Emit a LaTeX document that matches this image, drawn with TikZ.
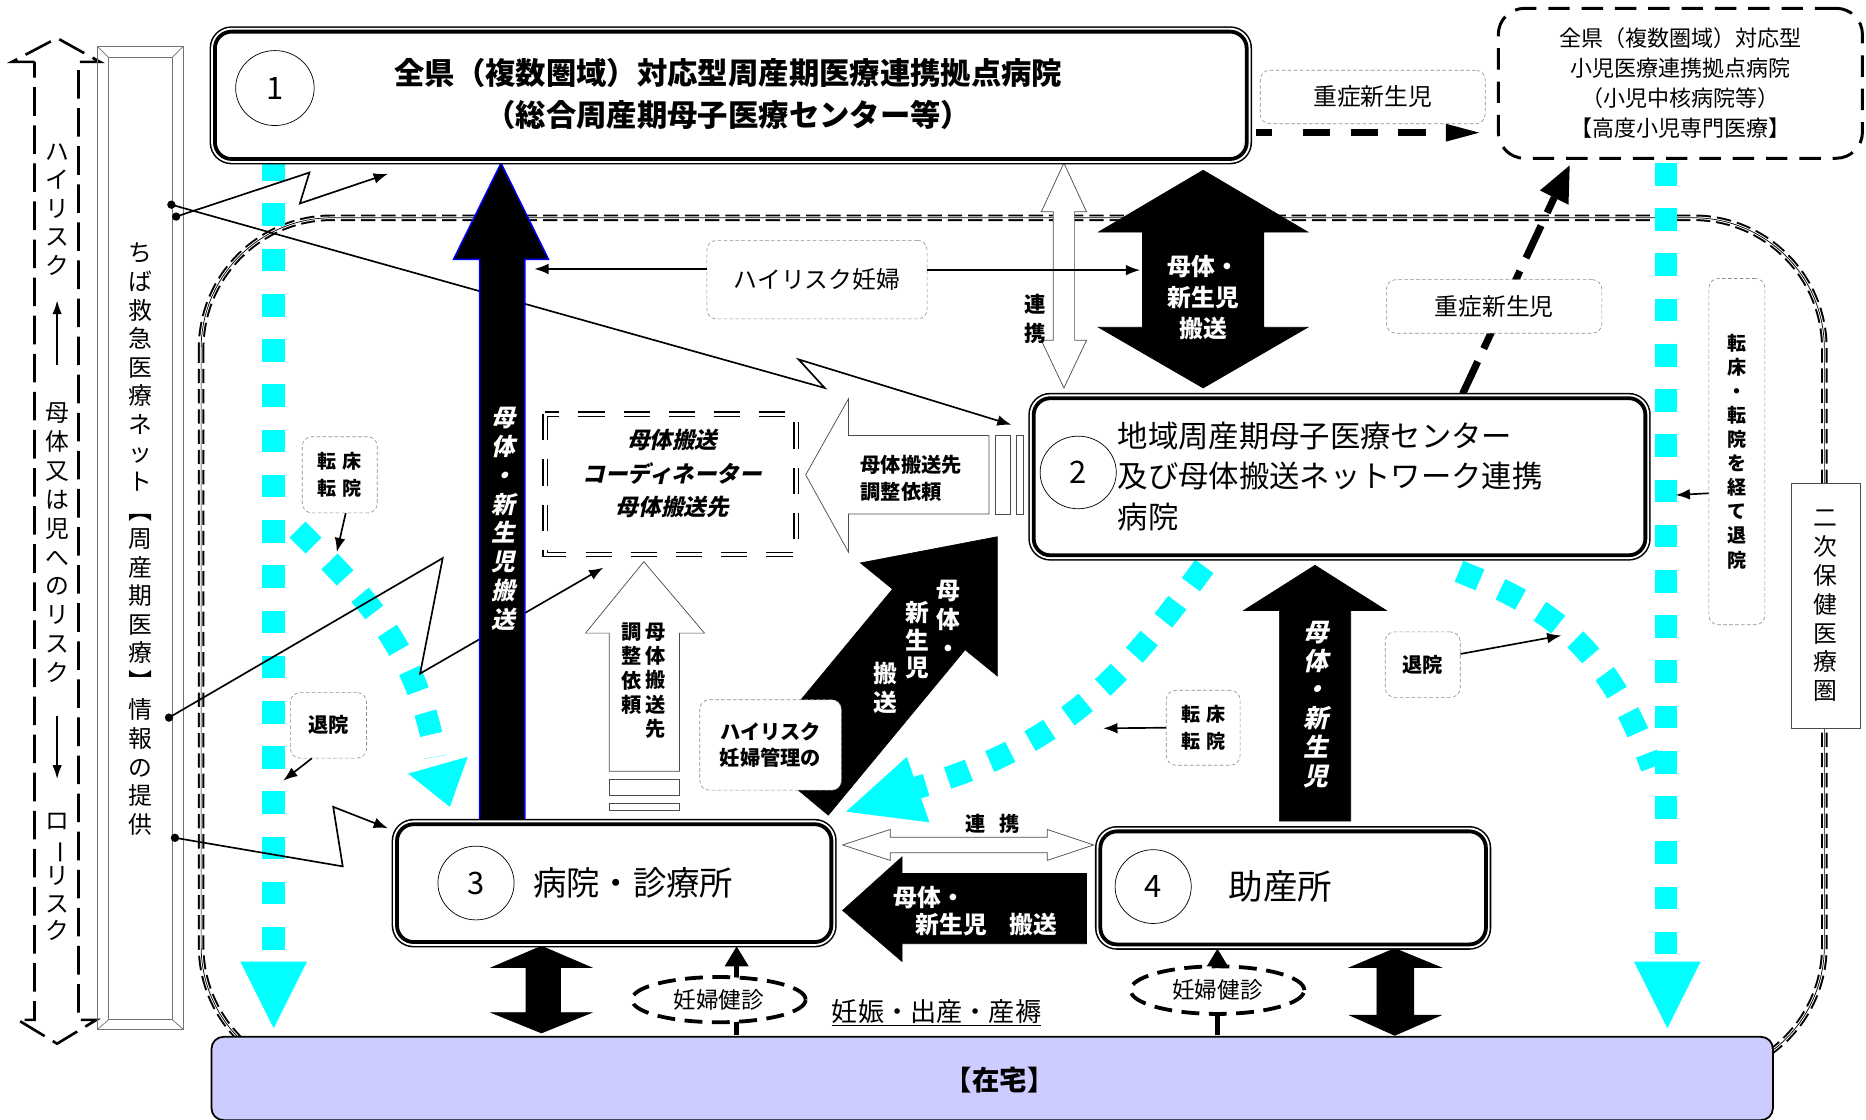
\documentclass[tikz,border=0pt]{standalone}
\usepackage{fontspec}
\setmainfont{Noto Sans CJK JP}
\newfontfamily\jpsl[FakeSlant=0.22]{Noto Sans CJK JP}
\usetikzlibrary{arrows.meta,shapes.geometric}
\definecolor{cy}{RGB}{0,255,255}
\definecolor{home}{RGB}{204,204,255}
\newcommand\fsz[2]{\fontsize{#1}{#2}\selectfont}
\newcommand\vbar{\rotatebox[origin=c]{-90}{ー}}
\newcommand\vlbr{\rotatebox[origin=c]{-90}{【}}
\newcommand\vrbr{\rotatebox[origin=c]{-90}{】}}
\begin{document}
\begin{tikzpicture}[x=1pt, y=-1pt,
  bigbox/.style={rectangle, rounded corners=14pt, draw=black, line width=3.2pt, fill=white,
     preaction={draw=black, line width=9pt}, preaction={draw=white, line width=6.4pt}},
  numc/.style={ellipse, draw=black, line width=0.6pt, inner sep=0pt, font=\fsz{26}{26}},
  lbl/.style={draw=black!45, densely dashed, line width=0.5pt, rounded corners=8pt, fill=white, align=center, inner sep=0pt},
  vt/.style={align=center, inner sep=0pt},
  thinarr/.style={line width=1.4pt, -{Latex[length=12pt,width=9pt]}},
  cyanline/.style={draw=cy, line width=19pt, dash pattern=on 19pt off 19pt},
  blk/.style={fill=black, draw=black, line width=0.5pt},
  wht/.style={fill=white, draw=black!70, line width=0.6pt},
]
\useasboundingbox (0,0) rectangle (1568,941);

% region (secondary medical area)
\draw[line width=5.5pt, dash pattern=on 12pt off 5pt, rounded corners=110pt] (169,183) rectangle (1533,905);
\draw[white, line width=2.2pt, rounded corners=110pt] (169,183) rectangle (1533,905);
\draw[line width=0.6pt, rounded corners=110pt] (169,183) rectangle (1533,905);

% left risk arrow
\draw[line width=2.2pt, dash pattern=on 24pt off 8pt] (29,52) -- (10,52) -- (48,32) -- (84,52) -- (66,52) -- (66,857) -- (81,857) -- (48,877) -- (15,857) -- (29,857) -- cycle;
\node[vt, font=\fsz{20}{24}] (hrk) at (48,176) {ハ\\イ\\リ\\ス\\ク};
\node[vt, font=\fsz{20}{24.3}] (mrk) at (48,456) {母\\体\\又\\は\\児\\へ\\の\\リ\\ス\\ク};
\node[vt, font=\fsz{20}{23}] (lrk) at (48,737) {ロ\\\vbar\\リ\\ス\\ク};
\draw[line width=2pt, -{Latex[length=12pt,width=8pt]}] (hrk.south |- 0,307) -- (hrk.south |- 0,252);
\draw[line width=2pt, -{Latex[length=12pt,width=8pt]}] (mrk.south |- 0,602) -- (mrk.south |- 0,655);

% network box
\draw[black!55, line width=0.9pt] (82,39) rectangle (154,865);
\draw[black!55, line width=0.9pt] (91,48) rectangle (145,857);
\draw[black!55, line width=0.6pt] (82,39) -- (91,48) (154,39) -- (145,48) (82,865) -- (91,857) (154,865) -- (145,857);
\node[vt, font=\fsz{20}{24}] (net) at (118,453) {ち\\ば\\救\\急\\医\\療\\ネ\\ッ\\ト\\\vlbr\\周\\産\\期\\医\\療\\\vrbr\\情\\報\\の\\提\\供};

% cyan paths
\draw[cyanline] (230,133) -- (230,800);
\fill[cy] (202,808) -- (258,808) -- (230,864) -- cycle;
\draw[cyanline] (1400,137) -- (1400,804);
\fill[cy] (1373,808) -- (1429,808) -- (1401,864) -- cycle;
\draw[cyanline] (250,445) .. controls (300,495) and (350,540) .. (366,636);
\fill[cy] (343,650) -- (393,636) -- (378,678) -- cycle;
\draw[cyanline] (1012,476) .. controls (950,560) and (900,625) .. (770,662);
\fill[cy] (762,636) -- (781,691) -- (711,682) -- cycle;
\draw[cyanline] (1226,480) .. controls (1300,510) and (1350,540) .. (1388,645);

% lightning lines
\coordinate (d1) at (144,172);
\coordinate (d2) at (148,182);
\coordinate (d3) at (142,603);
\coordinate (d4) at (147,704);
\draw[thinarr] (d2) -- (260,145) -- (252,171) -- (326,146);
\draw[thinarr] (d1) -- (693,326) -- (671,302) -- (850,357);
\draw[thinarr] (d3) -- (372,469) -- (353,566) -- (507,477);
\draw[thinarr] (d4) -- (288,728) -- (280,678) -- (326,696);
\foreach \d in {d1,d2,d3,d4} \fill (\d) circle (3.5pt);

% dashed arrow box1 -> top right box
\draw[line width=6pt, dash pattern=on 14pt off 26pt on 23pt off 17pt on 23pt off 17pt on 23pt off 40pt] (1055,111) -- (1216,111);
\fill (1215,104) -- (1243,111.5) -- (1215,119) -- cycle;
% dash arrow box2 -> top right box
\draw[line width=6pt, dash pattern=on 30pt off 12pt] (1229,331) -- (1306,166);
\fill (1319,139) -- (1318,172) -- (1294,160) -- cycle;

% big up arrow 3 -> 1
\draw[fill=black, draw=blue, line width=1.2pt] (403,690) -- (403,218) -- (381,218) -- (421,137) -- (461,218) -- (441,218) -- (441,690) -- cycle;
% white double arrow 1 <-> 2
\draw[wht] (894,137) -- (913,178) -- (903,178) -- (903,286) -- (913,286) -- (894,326) -- (875,286) -- (885,286) -- (885,178) -- (875,178) -- cycle;
% black double arrow 1 <-> 2
\draw[blk] (1011,143) -- (1099,195) -- (1062,195) -- (1062,275) -- (1099,275) -- (1011,326) -- (923,275) -- (960,275) -- (960,195) -- (923,195) -- cycle;
% white left arrow 2 -> coordinator
\draw[wht] (677,399) -- (713,335) -- (713,366) -- (831,366) -- (831,432) -- (713,432) -- (713,464) -- cycle;
\draw[wht] (836,366) rectangle (849,432);
\draw[wht] (854,366) rectangle (860,432);
% white up arrow 3 -> coordinator
\draw[wht] (541,472) -- (592,532) -- (571,532) -- (571,648) -- (512,648) -- (512,532) -- (492,532) -- cycle;
\draw[wht] (512,655) rectangle (571,668);
\draw[wht] (512,675) rectangle (571,681);
% diagonal black arrow 3 -> 2
\draw[blk] (635,634) -- (750,495) -- (723,473) -- (838,451) -- (838,568) -- (811,546) -- (696,685) -- cycle;
% black up arrow 4 -> 2
\draw[blk] (1075,690) -- (1075,513) -- (1045,513) -- (1105,475) -- (1165,513) -- (1135,513) -- (1135,690) -- cycle;
% black left arrow 4 -> 3
\draw[blk] (708,765) -- (758,720) -- (758,734) -- (913,734) -- (913,793) -- (758,793) -- (758,808) -- cycle;
% white double arrow 3 <-> 4
\draw[wht] (708,710) -- (748,697) -- (748,703.5) -- (880,703.5) -- (880,697) -- (919,710) -- (880,723) -- (880,716.5) -- (748,716.5) -- (748,723) -- cycle;
% black double arrows to home
\draw[blk] (455,795) -- (497,813) -- (471,813) -- (471,851) -- (497,851) -- (455,868) -- (413,851) -- (442,851) -- (442,813) -- (413,813) -- cycle;
\draw[blk] (1172,797) -- (1211,813) -- (1188,813) -- (1188,853) -- (1211,853) -- (1172,870) -- (1134,853) -- (1157,853) -- (1157,813) -- (1134,813) -- cycle;

% main boxes
\node[bigbox, minimum width=867pt, minimum height=107pt, anchor=north west] (b1) at (179,25) {};
\node[bigbox, minimum width=514pt, minimum height=132pt, anchor=north west] (b2) at (867,333) {};
\node[bigbox, minimum width=365pt, minimum height=99pt, anchor=north west] (b3) at (332,691) {};
\node[bigbox, minimum width=324pt, minimum height=95pt, anchor=north west] (b4) at (923,697) {};
\node[numc, minimum width=66pt, minimum height=63pt] (c1) at (231,74) {1};
\node[numc, minimum width=64pt, minimum height=61pt] (c2) at (906,397) {2};
\node[numc, minimum width=64pt, minimum height=62pt] (c3) at (400,742) {3};
\node[numc, minimum width=64pt, minimum height=62pt] (c4) at (969,745) {4};
\node[font=\bfseries\fsz{25.5}{35}, align=center, inner sep=0pt] (b1t) at (612,79) {全県（複数圏域）対応型周産期医療連携拠点病院\\（総合周産期母子医療センター等）};
\node[font=\fsz{25.5}{34}, align=left, anchor=west, inner sep=0pt] (b2t) at (939,400) {地域周産期母子医療センター\\及び母体搬送ネットワーク連携\\病院};
\node[font=\fsz{28}{28}, inner sep=0pt] (b3t) at (532,742) {病院・診療所};
\node[font=\fsz{29}{29}, inner sep=0pt] (b4t) at (1076,745) {助産所};

% top right box
\node[draw, line width=2.5pt, dash pattern=on 18pt off 10pt, rounded corners=22pt, minimum width=306pt, minimum height=126pt, align=center, font=\fsz{18.5}{25.3}, inner sep=0pt, fill=white] (trb) at (1412,70) {全県（複数圏域）対応型\\小児医療連携拠点病院\\（小児中核病院等）\\【高度小児専門医療】};

% coordinator box
\draw[double=white, double distance=2.5pt, line width=1.2pt, dash pattern=on 22pt off 16pt] (458,348) rectangle (669,466);
\node[font=\jpsl\bfseries\fsz{19}{28}, align=center, inner sep=0pt] (cot) at (565,398) {母体搬送\\コーディネーター\\母体搬送先};

% home
\node[draw, fill=home, rounded corners=10pt, line width=1.5pt, minimum width=1312pt, minimum height=70pt, anchor=north west] (zt) at (177,870.5) {};
\node[font=\bfseries\fsz{23}{23}, inner sep=0pt] (ztt) at (840,908) {【在宅】};

% pregnancy checkups
\draw[line width=4.5pt] (619,870) -- (619,855);
\draw[line width=4.5pt, -{Triangle[length=17pt,width=19pt]}] (619,824) -- (619,795);
\node[draw, ellipse, line width=3.2pt, dash pattern=on 15pt off 8pt, minimum width=146pt, minimum height=38pt, fill=white, font=\fsz{19}{19}, inner sep=0pt] (kk1) at (604,840) {妊婦健診};
\draw[line width=4.5pt] (1023,870) -- (1023,849);
\draw[line width=4.5pt, -{Triangle[length=17pt,width=19pt]}] (1023,815) -- (1023,797);
\node[draw, ellipse, line width=3.2pt, dash pattern=on 15pt off 8pt, minimum width=146pt, minimum height=40pt, fill=white, font=\fsz{19}{19}, inner sep=0pt] (kk2) at (1023,832) {妊婦健診};
\node[font=\fsz{22}{22}, inner sep=0pt] (nsb) at (787,851) {\underline{妊娠・出産・産褥}};

% labels
\node[lbl, minimum width=189pt, minimum height=45pt, font=\fsz{20}{20}] (jsn1) at (1153.5,81.5) {重症新生児};
\node[lbl, minimum width=181pt, minimum height=45pt, font=\fsz{20}{20}] (jsn2) at (1255.5,257.5) {重症新生児};
\node[lbl, minimum width=185pt, minimum height=66pt, font=\fsz{20}{20}] (hrp) at (686.5,235) {ハイリスク妊婦};
\draw[thinarr] ([yshift=9pt]hrp.west) -- (449,226);
\draw[thinarr] ([yshift=8pt]hrp.east) -- (958,227);
\node[lbl, minimum width=63pt, minimum height=64pt, font=\bfseries\fsz{16}{22}] (ttl) at (285.5,399) {転\hspace{5pt}床\\転\hspace{5pt}院};
\draw[thinarr] (ttl.south) ++(5,0) -- (283,464);
\node[lbl, minimum width=64pt, minimum height=55pt, font=\bfseries\fsz{17}{17}] (tl) at (276,609.5) {退院};
\draw[thinarr] ([xshift=-14pt]tl.south) -- (238,656);
\node[lbl, minimum width=62pt, minimum height=63pt, font=\bfseries\fsz{16}{22}] (ttr) at (1011,611.5) {転\hspace{5pt}床\\転\hspace{5pt}院};
\draw[thinarr] (ttr.west) -- (927,612);
\node[lbl, minimum width=63pt, minimum height=55pt, font=\bfseries\fsz{17}{17}] (tr) at (1195.5,558.5) {退院};
\draw[thinarr] ([yshift=9pt]tr.east) -- (1312,534);
\node[lbl, minimum width=47pt, minimum height=291pt, font=\bfseries\fsz{16}{20.2}] (tdv) at (1459.5,379.5) {転\\床\\・\\転\\院\\を\\経\\て\\退\\院};
\draw[thinarr] ([yshift=-35pt]tdv.west) -- (1408,416);
\node[lbl, minimum width=119pt, minimum height=76pt, font=\bfseries\fsz{17}{22}] (hrm) at (647.5,626) {ハイリスク\\妊婦管理の};
\node[draw=black!70, line width=0.8pt, fill=white, minimum width=58pt, minimum height=206pt, font=\fsz{20}{24.3}, align=center, inner sep=0pt] (nj) at (1534,509) {二\\次\\保\\健\\医\\療\\圏};

% arrow texts
\node[vt, text=white, font=\jpsl\bfseries\fsz{20}{24.3}] (bat) at (423,436) {母\\体\\・\\新\\生\\児\\搬\\送};
\node[vt, text=white, font=\jpsl\bfseries\fsz{21}{24.2}] (uat) at (1106,592) {母\\体\\・\\新\\生\\児};
\node[vt, text=white, font=\bfseries\fsz{20}{24.5}] (dg1) at (797,520) {母\\体\\・};
\node[vt, text=white, font=\bfseries\fsz{20}{23}] (dg2) at (771,538) {新\\生\\児};
\node[vt, text=white, font=\bfseries\fsz{20}{24}] (dg3) at (744,578) {搬\\送};
\node[text=white, font=\bfseries\fsz{20}{26}, align=center, inner sep=0pt] (bdt) at (1011,250) {母体・\\新生児\\搬送};
\node[vt, font=\bfseries\fsz{18}{25}] (rk1) at (870,268) {連\\携};
\node[font=\bfseries\fsz{17}{17}, inner sep=0pt] (rk2) at (834,692) {連\hspace{12pt}携};
\node[vt, font=\bfseries\fsz{17}{20.5}] (wut1) at (551,572) {母\\体\\搬\\送\\先};
\node[vt, font=\bfseries\fsz{17}{20.5}] (wut2) at (531,562) {調\\整\\依\\頼};
\node[font=\bfseries\fsz{17}{22}, align=left, anchor=west, inner sep=0pt] (wlt) at (723,402) {母体搬送先\\調整依頼};
\node[text=white, font=\bfseries\fsz{20}{20}, anchor=west, inner sep=0pt] (blt1) at (751,754) {母体・};
\node[text=white, font=\bfseries\fsz{20}{20}, anchor=west, inner sep=0pt] (blt2) at (769,777) {新生児\hspace{19pt}搬送};
\end{tikzpicture}
\end{document}
